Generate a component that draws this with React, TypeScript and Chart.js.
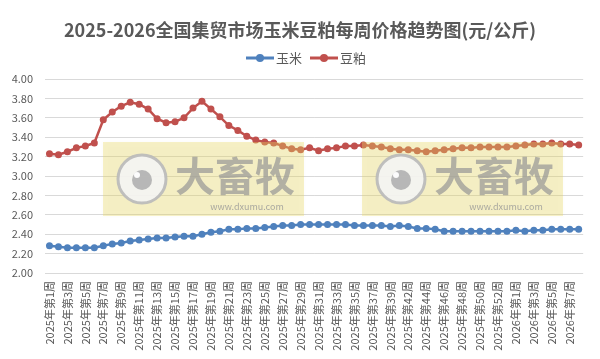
import React, { useEffect, useRef } from 'react';
import { Chart, registerables } from 'chart.js';

Chart.register(...registerables);

const TITLE = '2025-2026全国集贸市场玉米豆粕每周价格趋势图(元/公斤)';

const weekLabels = [
  '2025年第1周', '2025年第2周', '2025年第3周', '2025年第4周', '2025年第5周',
  '2025年第6周', '2025年第7周', '2025年第8周', '2025年第9周', '2025年第10周',
  '2025年第11周', '2025年第12周', '2025年第13周', '2025年第14周', '2025年第15周',
  '2025年第16周', '2025年第17周', '2025年第18周', '2025年第19周', '2025年第20周',
  '2025年第21周', '2025年第22周', '2025年第23周', '2025年第24周', '2025年第25周',
  '2025年第26周', '2025年第27周', '2025年第28周', '2025年第29周', '2025年第30周',
  '2025年第31周', '2025年第32周', '2025年第33周', '2025年第34周', '2025年第35周',
  '2025年第36周', '2025年第37周', '2025年第38周', '2025年第39周', '2025年第41周',
  '2025年第42周', '2025年第43周', '2025年第44周', '2025年第45周', '2025年第46周',
  '2025年第47周', '2025年第48周', '2025年第49周', '2025年第50周', '2025年第51周',
  '2025年第52周', '2025年第53周', '2026年第1周', '2026年第2周', '2026年第3周',
  '2026年第4周', '2026年第5周', '2026年第6周', '2026年第7周', '2026年第8周',
];

const cornPrices = [
  2.28, 2.27, 2.26, 2.26, 2.26, 2.26, 2.28, 2.30, 2.31, 2.33,
  2.34, 2.35, 2.36, 2.36, 2.37, 2.38, 2.38, 2.40, 2.42, 2.43,
  2.45, 2.45, 2.46, 2.46, 2.47, 2.48, 2.49, 2.49, 2.50, 2.50,
  2.50, 2.50, 2.50, 2.50, 2.49, 2.49, 2.49, 2.49, 2.48, 2.49,
  2.48, 2.46, 2.46, 2.45, 2.43, 2.43, 2.43, 2.43, 2.43, 2.43,
  2.43, 2.43, 2.44, 2.43, 2.44, 2.44, 2.45, 2.45, 2.45, 2.45,
];

const soymealPrices = [
  3.23, 3.22, 3.25, 3.29, 3.31, 3.34, 3.58, 3.66, 3.72, 3.76,
  3.74, 3.69, 3.59, 3.55, 3.56, 3.60, 3.70, 3.77, 3.69, 3.61,
  3.52, 3.47, 3.41, 3.37, 3.35, 3.34, 3.31, 3.28, 3.27, 3.29,
  3.26, 3.28, 3.29, 3.31, 3.31, 3.32, 3.31, 3.30, 3.28, 3.27,
  3.27, 3.26, 3.25, 3.26, 3.27, 3.28, 3.29, 3.29, 3.30, 3.30,
  3.30, 3.30, 3.31, 3.32, 3.33, 3.33, 3.34, 3.33, 3.33, 3.32,
];

const seriesNames = ['玉米', '豆粕'];
const seriesColors = ['#4f81bd', '#c0504d'];
const yMin = 2.0;
const yMax = 4.0;
const yStep = 0.2;

const FONT = '"Noto Sans CJK SC", "Noto Sans", sans-serif';
const TEXT_COLOR = '#595959';

const decorPlugin = {
  id: 'decor',
  afterDatasetsDraw(chart: any) {
    const ctx: CanvasRenderingContext2D = chart.ctx;
    for (const ox of [103, 362]) {
      ctx.save();
      ctx.shadowColor = 'rgba(0,0,0,0.08)';
      ctx.shadowBlur = 4;
      ctx.fillStyle = 'rgba(236,220,100,0.36)';
      ctx.fillRect(ox, 142, 201, 74);
      ctx.restore();

      ctx.save();
      const cx = ox + 39;
      const cy = 179;
      ctx.beginPath();
      ctx.arc(cx, cy, 24, 0, Math.PI * 2);
      ctx.fillStyle = 'rgba(244,244,244,0.9)';
      ctx.fill();
      ctx.lineWidth = 3;
      ctx.strokeStyle = 'rgba(185,185,185,0.9)';
      ctx.stroke();
      ctx.beginPath();
      ctx.arc(cx, cy + 1, 10, 0, Math.PI * 2);
      ctx.fillStyle = 'rgba(180,180,180,0.95)';
      ctx.fill();
      ctx.beginPath();
      ctx.arc(cx - 5, cy - 4, 3, 0, Math.PI * 2);
      ctx.fillStyle = 'rgba(255,255,255,0.95)';
      ctx.fill();

      ctx.fillStyle = 'rgba(150,150,150,0.7)';
      ctx.font = 'bold 40px ' + FONT;
      ctx.textAlign = 'left';
      ctx.textBaseline = 'middle';
      ctx.fillText('大畜牧', ox + 72, 176);
      ctx.font = '9px ' + FONT;
      ctx.textAlign = 'center';
      ctx.fillStyle = 'rgba(150,150,150,0.8)';
      ctx.fillText('www.dxumu.com', ox + 144, 207);
      ctx.restore();
    }
  },
  afterDraw(chart: any) {
    const ctx: CanvasRenderingContext2D = chart.ctx;
    ctx.save();
    ctx.fillStyle = TEXT_COLOR;
    ctx.font = 'bold 18px ' + FONT;
    ctx.textAlign = 'center';
    ctx.textBaseline = 'middle';
    ctx.fillText(TITLE, 300, 30);

    const items = [
      { x: 246, name: seriesNames[0], color: seriesColors[0] },
      { x: 310, name: seriesNames[1], color: seriesColors[1] },
    ];
    const ly = 58;
    for (const it of items) {
      ctx.strokeStyle = it.color;
      ctx.lineWidth = 3;
      ctx.beginPath();
      ctx.moveTo(it.x, ly);
      ctx.lineTo(it.x + 28, ly);
      ctx.stroke();
      ctx.beginPath();
      ctx.arc(it.x + 14, ly, 4, 0, Math.PI * 2);
      ctx.fillStyle = it.color;
      ctx.fill();
      ctx.fillStyle = TEXT_COLOR;
      ctx.font = '13px ' + FONT;
      ctx.textAlign = 'left';
      ctx.fillText(it.name, it.x + 30, ly);
    }
    ctx.restore();
  },
};

export default function App() {
  const ref = useRef<HTMLCanvasElement>(null);
  useEffect(() => {
    const chart = new Chart(ref.current as HTMLCanvasElement, {
      type: 'line',
      data: {
        labels: weekLabels,
        datasets: [
          {
            label: seriesNames[0],
            data: cornPrices,
            borderColor: seriesColors[0],
            backgroundColor: seriesColors[0],
            borderWidth: 2.5,
            pointRadius: 3.5,
            pointBorderWidth: 0,
            tension: 0,
          },
          {
            label: seriesNames[1],
            data: soymealPrices,
            borderColor: seriesColors[1],
            backgroundColor: seriesColors[1],
            borderWidth: 2.5,
            pointRadius: 3.5,
            pointBorderWidth: 0,
            tension: 0,
          },
        ],
      },
      options: {
        animation: false,
        responsive: false,
        devicePixelRatio: 1,
        layout: { padding: { top: 79, right: 15, bottom: 0, left: 0 } },
        plugins: {
          legend: { display: false },
          title: { display: false },
          tooltip: { enabled: false },
        },
        scales: {
          x: {
            offset: true,
            grid: { display: false, drawTicks: false },
            border: { display: false },
            ticks: {
              autoSkip: false,
              maxRotation: 90,
              minRotation: 90,
              padding: 8,
              color: TEXT_COLOR,
              font: { size: 11, family: FONT },
              callback: (_v: any, i: number) => (i % 2 === 0 ? weekLabels[i] : ''),
            },
            afterFit: (s: any) => {
              s.height = 86;
            },
          },
          y: {
            min: yMin,
            max: yMax,
            ticks: {
              stepSize: yStep,
              padding: 12,
              color: TEXT_COLOR,
              font: { size: 11, family: FONT },
              callback: (v: any) => Number(v).toFixed(2),
            },
            grid: { color: '#d9d9d9', drawTicks: false, lineWidth: 1 },
            border: { display: false },
            afterFit: (s: any) => {
              s.width = 45;
            },
          },
        },
      },
      plugins: [decorPlugin],
    });
    return () => chart.destroy();
  }, []);
  return (
    <div style={{ position: 'absolute', left: 0, top: 0, width: 600, height: 359, background: '#fff' }}>
      <canvas ref={ref} width={600} height={359} style={{ display: 'block' }} />
    </div>
  );
}
